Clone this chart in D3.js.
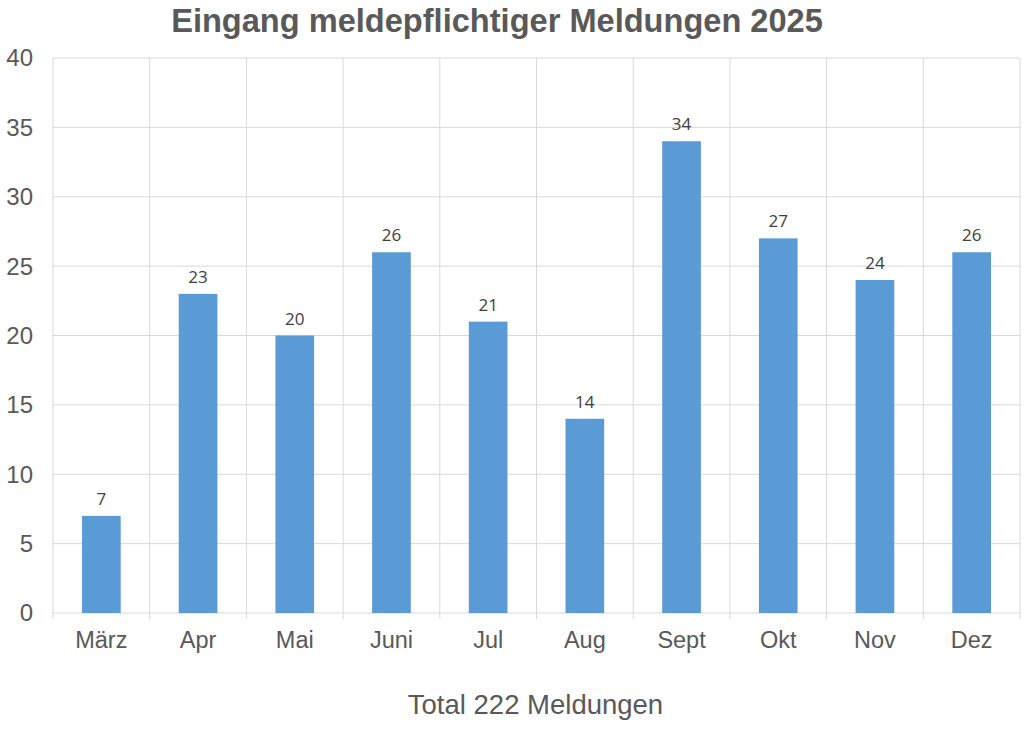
<!DOCTYPE html>
<html>
<head>
<meta charset="utf-8">
<script src="https://cdn.jsdelivr.net/npm/d3@7"></script>
<style>
  html, body { margin: 0; padding: 0; background: #fff; }
  svg { display: block; }
</style>
</head>
<body>
<svg id="chart" width="1024" height="729"></svg>
<script>
const title = "Eingang meldepflichtiger Meldungen 2025";
const xTitle = "Total 222 Meldungen";
const categories = ["März", "Apr", "Mai", "Juni", "Jul", "Aug", "Sept", "Okt", "Nov", "Dez"];
const values = [7, 23, 20, 26, 21, 14, 34, 27, 24, 26];
const yTicks = [0, 5, 10, 15, 20, 25, 30, 35, 40];

const svg = d3.select("#chart");
const margin = { left: 53, right: 1020, top: 58, bottom: 613 };

const x = d3.scaleBand().domain(categories).range([margin.left, margin.right]).paddingInner(0.6).paddingOuter(0.3);
const xGrid = d3.scaleBand().domain(categories).range([margin.left, margin.right]).padding(0);
const y = d3.scaleLinear().domain([0, 40]).range([margin.bottom, margin.top]);

const grid = "#d9d9d9";

// horizontal gridlines
svg.append("g").selectAll("line").data(yTicks.filter(d => d > 0)).join("line")
  .attr("x1", margin.left).attr("x2", margin.right)
  .attr("y1", d => y(d)).attr("y2", d => y(d))
  .attr("stroke", grid).attr("stroke-width", 1);

// vertical gridlines at category boundaries
const bounds = categories.map(c => xGrid(c)).concat([margin.right]);
svg.append("g").selectAll("line").data(bounds).join("line")
  .attr("x1", d => d).attr("x2", d => d)
  .attr("y1", margin.top).attr("y2", margin.bottom + 6)
  .attr("stroke", grid).attr("stroke-width", 1);

// x axis line
svg.append("line")
  .attr("x1", margin.left).attr("x2", margin.right)
  .attr("y1", margin.bottom).attr("y2", margin.bottom)
  .attr("stroke", grid).attr("stroke-width", 1.2);

// bars
svg.append("g").selectAll("rect").data(values).join("rect")
  .attr("x", (d, i) => x(categories[i]))
  .attr("width", x.bandwidth())
  .attr("y", d => y(d))
  .attr("height", d => y(0) - y(d))
  .attr("fill", "#5B9BD5");

// data labels
svg.append("g").selectAll("text").data(values).join("text")
  .attr("x", (d, i) => x(categories[i]) + x.bandwidth() / 2)
  .attr("y", d => y(d) - 11)
  .attr("text-anchor", "middle")
  .attr("font-family", "'Open Sans', 'Noto Sans', sans-serif")
  .attr("font-size", 17)
  .attr("fill", "#404040")
  .text(d => d);

// y tick labels
svg.append("g").selectAll("text").data(yTicks).join("text")
  .attr("x", 33)
  .attr("y", d => y(d))
  .attr("dy", "0.35em")
  .attr("text-anchor", "end")
  .attr("font-family", "'Liberation Sans', Arial, sans-serif")
  .attr("font-size", 24)
  .attr("fill", "#595959")
  .text(d => d);

// x tick labels
svg.append("g").selectAll("text").data(categories).join("text")
  .attr("x", d => xGrid(d) + xGrid.bandwidth() / 2)
  .attr("y", 648)
  .attr("text-anchor", "middle")
  .attr("font-family", "'Liberation Sans', Arial, sans-serif")
  .attr("font-size", 23.5)
  .attr("fill", "#595959")
  .text(d => d);

// title
svg.append("text")
  .attr("x", 497).attr("y", 32)
  .attr("text-anchor", "middle")
  .attr("font-family", "'Liberation Sans', Arial, sans-serif")
  .attr("font-weight", "bold")
  .attr("font-size", 32.6)
  .attr("fill", "#595959")
  .text(title);

// x axis title
svg.append("text")
  .attr("x", 535.5).attr("y", 714)
  .attr("text-anchor", "middle")
  .attr("font-family", "'Liberation Sans', Arial, sans-serif")
  .attr("font-size", 27.5)
  .attr("fill", "#595959")
  .text(xTitle);
</script>
</body>
</html>
